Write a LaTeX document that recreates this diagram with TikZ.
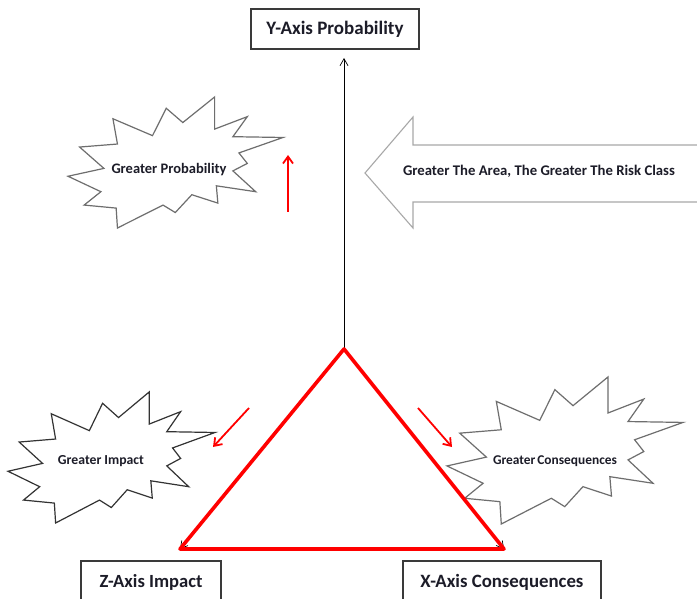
\documentclass[tikz,border=0pt]{standalone}
\usepackage{fontspec}
\setmainfont{Carlito}
\usetikzlibrary{arrows.meta}
\definecolor{txt}{HTML}{1C1C28}
\definecolor{starcol}{HTML}{6E6E6E}
\definecolor{arrowgray}{HTML}{A8A8A8}
\definecolor{boxcol}{HTML}{3A3A3A}
\newcommand\burstpath{(0,0.605) -- (0.167,0.545) -- (0.054,0.382) -- (0.230,0.359) -- (0.209,0.166) -- (0.393,0.295) -- (0.457,0.086) -- (0.534,0.195) -- (0.682,0) -- (0.682,0.245) -- (0.834,0.150) -- (0.767,0.303) -- (1,0.309) -- (0.795,0.427) -- (0.834,0.507) -- (0.767,0.564) -- (0.873,0.723) -- (0.690,0.678) -- (0.697,0.810) -- (0.576,0.746) -- (0.499,0.882) -- (0.442,0.825) -- (0.230,1) -- (0.224,0.848) -- (0.075,0.825) -- (0.153,0.723) -- cycle}
\newcommand\fitw[2]{\resizebox{#1pt}{!}{#2}}
\tikzset{
  axisbox/.style={draw=boxcol, line width=1.4pt, fill=white, inner sep=0pt, text=txt, font=\bfseries},
  lbl/.style={inner sep=0pt, text=txt},
  axisline/.style={draw=black, line width=0.7pt, -{Straight Barb[length=7pt,width=8pt]}},
  redarrow/.style={draw=red, line width=1.8pt, -{Straight Barb[length=7pt,width=10pt,line width=1.8pt]}},
  tri/.style={draw=red, line width=3.6pt, line join=round},
  burst/.style={draw=starcol, line width=1.2pt, fill=white, line join=miter},
}
\begin{document}
\begin{tikzpicture}[x=1pt,y=-1pt]
\clip (0,0) rectangle (697,599);
\fill[white] (0,0) rectangle (697,599);

% block arrow
\draw[draw=arrowgray, line width=1.1pt, fill=white] (365,173) -- (413,117) -- (413,145) -- (710,145) -- (710,202) -- (413,202) -- (413,228) -- cycle;
\node[lbl, font=\bfseries] (arealbl) at (539,171.5) {\fitw{272}{Greater The Area, The Greater The Risk Class}};

% bursts
\begin{scope}[shift={(68,97)}, xscale=215, yscale=131]
  \draw[burst] \burstpath;
\end{scope}
\begin{scope}[shift={(8,392)}, xscale=207, yscale=131]
  \draw[burst, draw=black!80] \burstpath;
\end{scope}
\begin{scope}[shift={(447,377)}, xscale=236, yscale=147]
  \draw[burst] \burstpath;
\end{scope}
\node[lbl, font=\bfseries] (prob) at (169,170) {\fitw{115}{Greater Probability}};
\node[lbl, font=\bfseries] (imp) at (101,461.5) {\fitw{86}{Greater Impact}};
\node[lbl, font=\bfseries] (cons) at (555,461.5) {\fitw{124}{Greater\kern1.5pt Consequences}};

% axes
\coordinate (O) at (344,349);
\coordinate (Ytip) at (344,58);
\coordinate (Zc) at (180,549);
\coordinate (Xc) at (504,549);
\draw[axisline] (O) -- (Ytip);
\draw[axisline] (O) -- (Zc);
\draw[axisline] (O) -- (Xc);
\draw[tri] (O) -- (Zc) -- (Xc) -- cycle;

% red small arrows
\coordinate (pa) at (288,212);
\coordinate (pb) at (288,155);
\coordinate (ia) at (249,408);
\coordinate (ib) at (213,447);
\coordinate (ca) at (418,408);
\coordinate (cb) at (452,447);
\draw[redarrow] (pa) -- (pb);
\draw[redarrow] (ia) -- (ib);
\draw[redarrow] (ca) -- (cb);

% axis boxes
\node[axisbox, minimum width=168pt, minimum height=40pt] (ybox) at (335,29) {\fitw{137}{Y-Axis Probability}};
\node[axisbox, minimum width=140pt, minimum height=42pt] (zbox) at (151,582) {\raisebox{3pt}{\fitw{103}{Z-Axis Impact}}};
\node[axisbox, minimum width=198pt, minimum height=42pt] (xbox) at (502,582) {\raisebox{3pt}{\fitw{163}{X-Axis Consequences}}};
\end{tikzpicture}
\end{document}
